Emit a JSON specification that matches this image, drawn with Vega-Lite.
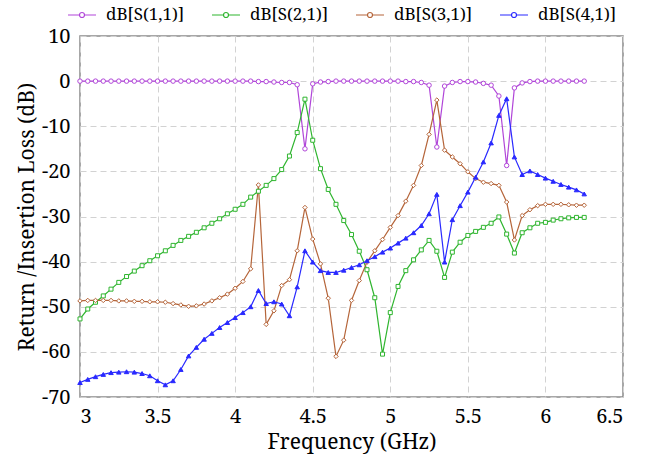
{
  "$schema": "https://vega.github.io/schema/vega-lite/v6.json",
  "width": 543,
  "height": 361,
  "autosize": "none",
  "padding": {"left": 80, "top": 36, "right": 22, "bottom": 62},
  "background": "white",
  "config": {
    "view": {"stroke": "#8a8a8a", "strokeWidth": 1.5},
    "axis": {
      "labelFont": "Noto Serif, DejaVu Serif",
      "labelFontSize": 20,
      "labelColor": "#000000",
      "titleFont": "Noto Serif, DejaVu Serif",
      "titleFontSize": 21,
      "titleFontWeight": "normal",
      "titleColor": "#000000",
      "ticks": false,
      "domain": false,
      "grid": true,
      "gridDash": [6, 4],
      "gridColor": "#d2d2d2",
      "gridWidth": 1
    }
  },
  "datasets": {
    "s": [
      {"f":3.00,"s":"S11","v":0},{"f":3.05,"s":"S11","v":0},{"f":3.10,"s":"S11","v":0},{"f":3.15,"s":"S11","v":0},{"f":3.20,"s":"S11","v":0},{"f":3.25,"s":"S11","v":0},{"f":3.30,"s":"S11","v":0},{"f":3.35,"s":"S11","v":0},{"f":3.40,"s":"S11","v":0},{"f":3.45,"s":"S11","v":0},
      {"f":3.50,"s":"S11","v":0},{"f":3.55,"s":"S11","v":0},{"f":3.60,"s":"S11","v":0},{"f":3.65,"s":"S11","v":0},{"f":3.70,"s":"S11","v":0},{"f":3.75,"s":"S11","v":0},{"f":3.80,"s":"S11","v":0},{"f":3.85,"s":"S11","v":0},{"f":3.90,"s":"S11","v":0},{"f":3.95,"s":"S11","v":0},
      {"f":4.00,"s":"S11","v":0},{"f":4.05,"s":"S11","v":0},{"f":4.10,"s":"S11","v":0},{"f":4.15,"s":"S11","v":-0.1},{"f":4.20,"s":"S11","v":-0.1},{"f":4.25,"s":"S11","v":-0.2},{"f":4.30,"s":"S11","v":-0.3},{"f":4.35,"s":"S11","v":-0.3},{"f":4.40,"s":"S11","v":-0.8},{"f":4.45,"s":"S11","v":-15},
      {"f":4.50,"s":"S11","v":-0.6},{"f":4.55,"s":"S11","v":-0.2},{"f":4.60,"s":"S11","v":-0.1},{"f":4.65,"s":"S11","v":0},{"f":4.70,"s":"S11","v":0},{"f":4.75,"s":"S11","v":0},{"f":4.80,"s":"S11","v":0},{"f":4.85,"s":"S11","v":0},{"f":4.90,"s":"S11","v":0},{"f":4.95,"s":"S11","v":0},
      {"f":5.00,"s":"S11","v":0},{"f":5.05,"s":"S11","v":0},{"f":5.10,"s":"S11","v":-0.1},{"f":5.15,"s":"S11","v":-0.1},{"f":5.20,"s":"S11","v":-0.3},{"f":5.25,"s":"S11","v":-0.9},{"f":5.30,"s":"S11","v":-14.6},{"f":5.35,"s":"S11","v":-1.1},{"f":5.40,"s":"S11","v":-0.3},{"f":5.45,"s":"S11","v":-0.1},
      {"f":5.50,"s":"S11","v":-0.1},{"f":5.55,"s":"S11","v":-0.2},{"f":5.60,"s":"S11","v":-0.5},{"f":5.65,"s":"S11","v":-0.9},{"f":5.70,"s":"S11","v":-3.3},{"f":5.75,"s":"S11","v":-18.7},{"f":5.80,"s":"S11","v":-1.5},{"f":5.85,"s":"S11","v":-0.4},{"f":5.90,"s":"S11","v":-0.1},{"f":5.95,"s":"S11","v":0},
      {"f":6.00,"s":"S11","v":0},{"f":6.05,"s":"S11","v":0},{"f":6.10,"s":"S11","v":0},{"f":6.15,"s":"S11","v":0},{"f":6.20,"s":"S11","v":0},{"f":6.25,"s":"S11","v":0},

      {"f":3.00,"s":"S21","v":-52.7},{"f":3.05,"s":"S21","v":-50.5},{"f":3.10,"s":"S21","v":-49.0},{"f":3.15,"s":"S21","v":-47.6},{"f":3.20,"s":"S21","v":-46.1},{"f":3.25,"s":"S21","v":-44.6},{"f":3.30,"s":"S21","v":-43.3},{"f":3.35,"s":"S21","v":-42.1},{"f":3.40,"s":"S21","v":-40.9},{"f":3.45,"s":"S21","v":-39.8},
      {"f":3.50,"s":"S21","v":-38.7},{"f":3.55,"s":"S21","v":-37.6},{"f":3.60,"s":"S21","v":-36.4},{"f":3.65,"s":"S21","v":-35.3},{"f":3.70,"s":"S21","v":-34.4},{"f":3.75,"s":"S21","v":-33.5},{"f":3.80,"s":"S21","v":-32.5},{"f":3.85,"s":"S21","v":-31.5},{"f":3.90,"s":"S21","v":-30.5},{"f":3.95,"s":"S21","v":-29.4},
      {"f":4.00,"s":"S21","v":-28.4},{"f":4.05,"s":"S21","v":-27.3},{"f":4.10,"s":"S21","v":-25.7},{"f":4.15,"s":"S21","v":-24.4},{"f":4.20,"s":"S21","v":-23.1},{"f":4.25,"s":"S21","v":-21.6},{"f":4.30,"s":"S21","v":-19.6},{"f":4.35,"s":"S21","v":-16.6},{"f":4.40,"s":"S21","v":-11.4},{"f":4.45,"s":"S21","v":-4.0},
      {"f":4.50,"s":"S21","v":-13.1},{"f":4.55,"s":"S21","v":-19.4},{"f":4.60,"s":"S21","v":-24.0},{"f":4.65,"s":"S21","v":-27.3},{"f":4.70,"s":"S21","v":-30.9},{"f":4.75,"s":"S21","v":-34.0},{"f":4.80,"s":"S21","v":-37.7},{"f":4.85,"s":"S21","v":-41.8},{"f":4.90,"s":"S21","v":-48.0},{"f":4.95,"s":"S21","v":-60.5},
      {"f":5.00,"s":"S21","v":-51.3},{"f":5.05,"s":"S21","v":-45.5},{"f":5.10,"s":"S21","v":-42.0},{"f":5.15,"s":"S21","v":-39.6},{"f":5.20,"s":"S21","v":-37.4},{"f":5.25,"s":"S21","v":-35.3},{"f":5.30,"s":"S21","v":-37.7},{"f":5.35,"s":"S21","v":-43.5},{"f":5.40,"s":"S21","v":-37.9},{"f":5.45,"s":"S21","v":-35.7},
      {"f":5.50,"s":"S21","v":-34.2},{"f":5.55,"s":"S21","v":-33.3},{"f":5.60,"s":"S21","v":-32.4},{"f":5.65,"s":"S21","v":-31.5},{"f":5.70,"s":"S21","v":-30.1},{"f":5.75,"s":"S21","v":-33.9},{"f":5.80,"s":"S21","v":-38.1},{"f":5.85,"s":"S21","v":-33.6},{"f":5.90,"s":"S21","v":-32.5},{"f":5.95,"s":"S21","v":-31.5},
      {"f":6.00,"s":"S21","v":-31.3},{"f":6.05,"s":"S21","v":-30.8},{"f":6.10,"s":"S21","v":-30.5},{"f":6.15,"s":"S21","v":-30.3},{"f":6.20,"s":"S21","v":-30.2},{"f":6.25,"s":"S21","v":-30.2},

      {"f":3.00,"s":"S31","v":-48.7},{"f":3.05,"s":"S31","v":-48.6},{"f":3.10,"s":"S31","v":-48.6},{"f":3.15,"s":"S31","v":-48.6},{"f":3.20,"s":"S31","v":-48.6},{"f":3.25,"s":"S31","v":-48.7},{"f":3.30,"s":"S31","v":-48.7},{"f":3.35,"s":"S31","v":-48.8},{"f":3.40,"s":"S31","v":-48.8},{"f":3.45,"s":"S31","v":-48.9},
      {"f":3.50,"s":"S31","v":-48.9},{"f":3.55,"s":"S31","v":-49.0},{"f":3.60,"s":"S31","v":-49.3},{"f":3.65,"s":"S31","v":-49.6},{"f":3.70,"s":"S31","v":-49.9},{"f":3.75,"s":"S31","v":-49.8},{"f":3.80,"s":"S31","v":-49.4},{"f":3.85,"s":"S31","v":-48.7},{"f":3.90,"s":"S31","v":-48.0},{"f":3.95,"s":"S31","v":-47.2},
      {"f":4.00,"s":"S31","v":-45.9},{"f":4.05,"s":"S31","v":-44.4},{"f":4.10,"s":"S31","v":-41.6},{"f":4.15,"s":"S31","v":-23.0},{"f":4.20,"s":"S31","v":-53.9},{"f":4.25,"s":"S31","v":-50.9},{"f":4.30,"s":"S31","v":-45.3},{"f":4.35,"s":"S31","v":-44.0},{"f":4.40,"s":"S31","v":-37.6},{"f":4.45,"s":"S31","v":-28.0},
      {"f":4.50,"s":"S31","v":-35.0},{"f":4.55,"s":"S31","v":-40.5},{"f":4.60,"s":"S31","v":-48.1},{"f":4.65,"s":"S31","v":-61.0},{"f":4.70,"s":"S31","v":-57.4},{"f":4.75,"s":"S31","v":-48.6},{"f":4.80,"s":"S31","v":-44.2},{"f":4.85,"s":"S31","v":-40.1},{"f":4.90,"s":"S31","v":-37.6},{"f":4.95,"s":"S31","v":-35.1},
      {"f":5.00,"s":"S31","v":-32.4},{"f":5.05,"s":"S31","v":-29.8},{"f":5.10,"s":"S31","v":-26.6},{"f":5.15,"s":"S31","v":-23.1},{"f":5.20,"s":"S31","v":-18.7},{"f":5.25,"s":"S31","v":-11.8},{"f":5.30,"s":"S31","v":-4.2},{"f":5.35,"s":"S31","v":-15.3},{"f":5.40,"s":"S31","v":-16.8},{"f":5.45,"s":"S31","v":-18.3},
      {"f":5.50,"s":"S31","v":-20.1},{"f":5.55,"s":"S31","v":-21.6},{"f":5.60,"s":"S31","v":-22.4},{"f":5.65,"s":"S31","v":-22.7},{"f":5.70,"s":"S31","v":-23.1},{"f":5.75,"s":"S31","v":-26.8},{"f":5.80,"s":"S31","v":-35.2},{"f":5.85,"s":"S31","v":-29.8},{"f":5.90,"s":"S31","v":-28.5},{"f":5.95,"s":"S31","v":-27.6},
      {"f":6.00,"s":"S31","v":-27.3},{"f":6.05,"s":"S31","v":-27.3},{"f":6.10,"s":"S31","v":-27.3},{"f":6.15,"s":"S31","v":-27.4},{"f":6.20,"s":"S31","v":-27.5},{"f":6.25,"s":"S31","v":-27.5},

      {"f":3.00,"s":"S41","v":-66.8},{"f":3.05,"s":"S41","v":-66.1},{"f":3.10,"s":"S41","v":-65.5},{"f":3.15,"s":"S41","v":-65.0},{"f":3.20,"s":"S41","v":-64.6},{"f":3.25,"s":"S41","v":-64.5},{"f":3.30,"s":"S41","v":-64.4},{"f":3.35,"s":"S41","v":-64.5},{"f":3.40,"s":"S41","v":-64.8},{"f":3.45,"s":"S41","v":-65.3},
      {"f":3.50,"s":"S41","v":-66.4},{"f":3.55,"s":"S41","v":-67.3},{"f":3.60,"s":"S41","v":-66.4},{"f":3.65,"s":"S41","v":-63.9},{"f":3.70,"s":"S41","v":-60.9},{"f":3.75,"s":"S41","v":-59.0},{"f":3.80,"s":"S41","v":-57.2},{"f":3.85,"s":"S41","v":-55.9},{"f":3.90,"s":"S41","v":-54.6},{"f":3.95,"s":"S41","v":-53.5},
      {"f":4.00,"s":"S41","v":-52.4},{"f":4.05,"s":"S41","v":-51.3},{"f":4.10,"s":"S41","v":-50.0},{"f":4.15,"s":"S41","v":-46.4},{"f":4.20,"s":"S41","v":-49.3},{"f":4.25,"s":"S41","v":-48.9},{"f":4.30,"s":"S41","v":-49.4},{"f":4.35,"s":"S41","v":-52.0},{"f":4.40,"s":"S41","v":-45.6},{"f":4.45,"s":"S41","v":-37.6},
      {"f":4.50,"s":"S41","v":-40.1},{"f":4.55,"s":"S41","v":-42.0},{"f":4.60,"s":"S41","v":-42.4},{"f":4.65,"s":"S41","v":-42.4},{"f":4.70,"s":"S41","v":-41.9},{"f":4.75,"s":"S41","v":-41.3},{"f":4.80,"s":"S41","v":-40.7},{"f":4.85,"s":"S41","v":-39.8},{"f":4.90,"s":"S41","v":-38.9},{"f":4.95,"s":"S41","v":-37.9},
      {"f":5.00,"s":"S41","v":-37.0},{"f":5.05,"s":"S41","v":-35.9},{"f":5.10,"s":"S41","v":-34.8},{"f":5.15,"s":"S41","v":-33.6},{"f":5.20,"s":"S41","v":-32.0},{"f":5.25,"s":"S41","v":-29.4},{"f":5.30,"s":"S41","v":-25.1},{"f":5.35,"s":"S41","v":-40.1},{"f":5.40,"s":"S41","v":-30.7},{"f":5.45,"s":"S41","v":-27.6},
      {"f":5.50,"s":"S41","v":-24.6},{"f":5.55,"s":"S41","v":-21.3},{"f":5.60,"s":"S41","v":-17.9},{"f":5.65,"s":"S41","v":-13.7},{"f":5.70,"s":"S41","v":-7.6},{"f":5.75,"s":"S41","v":-3.9},{"f":5.80,"s":"S41","v":-16.8},{"f":5.85,"s":"S41","v":-20.7},{"f":5.90,"s":"S41","v":-19.9},{"f":5.95,"s":"S41","v":-20.7},
      {"f":6.00,"s":"S41","v":-21.5},{"f":6.05,"s":"S41","v":-22.2},{"f":6.10,"s":"S41","v":-22.9},{"f":6.15,"s":"S41","v":-23.5},{"f":6.20,"s":"S41","v":-24.1},{"f":6.25,"s":"S41","v":-25.0}
    ]
  },
  "data": {"name": "s"},
  "encoding": {
    "x": {
      "field": "f", "type": "quantitative",
      "scale": {"domain": [3, 6.5], "nice": false, "zero": false},
      "axis": {"values": [3, 3.5, 4, 4.5, 5, 5.5, 6, 6.5], "format": "~g", "title": "Frequency (GHz)", "labelPadding": 9, "titlePadding": 5}
    },
    "y": {
      "field": "v", "type": "quantitative",
      "scale": {"domain": [-70, 10], "nice": false, "zero": false},
      "axis": {"values": [-70, -60, -50, -40, -30, -20, -10, 0, 10], "title": "Return /Insertion Loss (dB)", "labelExpr": "replace(datum.label, '−', '-')", "labelPadding": 10, "titlePadding": 4}
    }
  },
  "layer": [
    {
      "mark": {"type": "line", "strokeWidth": 1.2},
      "encoding": {
        "color": {
          "field": "s", "type": "nominal",
          "scale": {"domain": ["S11", "S21", "S31", "S41"], "range": ["#b146d9", "#2fb52f", "#b5653a", "#2929ff"]},
          "legend": {
            "title": null,
            "orient": "none",
            "legendX": -13,
            "legendY": -36,
            "direction": "horizontal",
            "padding": 0,
            "labelFont": "Noto Serif, DejaVu Serif",
            "labelFontSize": 17,
            "labelColor": "#000000",
            "labelOffset": 9,
            "columnPadding": 24,
            "symbolSize": 784,
            "symbolType": "M-1,0H-0.18M0.18,0H1M-0.18,0A0.18,0.18 0 1,0 0.18,0A0.18,0.18 0 1,0 -0.18,0",
            "symbolStrokeWidth": 1.2,
            "symbolFillColor": "#ffffff",
            "labelExpr": "datum.value === 'S11' ? 'dB[S(1,1)]' : datum.value === 'S21' ? 'dB[S(2,1)]' : datum.value === 'S31' ? 'dB[S(3,1)]' : 'dB[S(4,1)]'"
          }
        }
      }
    },
    {
      "transform": [{"filter": "datum.s === 'S11'"}],
      "mark": {"type": "point", "shape": "circle", "size": 20, "strokeWidth": 1, "opacity": 1, "filled": false, "fill": "#ffffff", "stroke": "#b146d9"}
    },
    {
      "transform": [{"filter": "datum.s === 'S21'"}],
      "mark": {"type": "point", "shape": "square", "size": 16, "strokeWidth": 1, "opacity": 1, "filled": false, "fill": "#ffffff", "stroke": "#2fb52f"}
    },
    {
      "transform": [{"filter": "datum.s === 'S31'"}],
      "mark": {"type": "point", "shape": "diamond", "size": 20, "strokeWidth": 1, "opacity": 1, "filled": false, "fill": "#ffffff", "stroke": "#b5653a"}
    },
    {
      "transform": [{"filter": "datum.s === 'S41'"}],
      "mark": {"type": "point", "shape": "triangle-up", "size": 20, "strokeWidth": 1, "opacity": 1, "filled": true, "fill": "#2929ff", "stroke": "#2929ff"}
    }
  ]
}
